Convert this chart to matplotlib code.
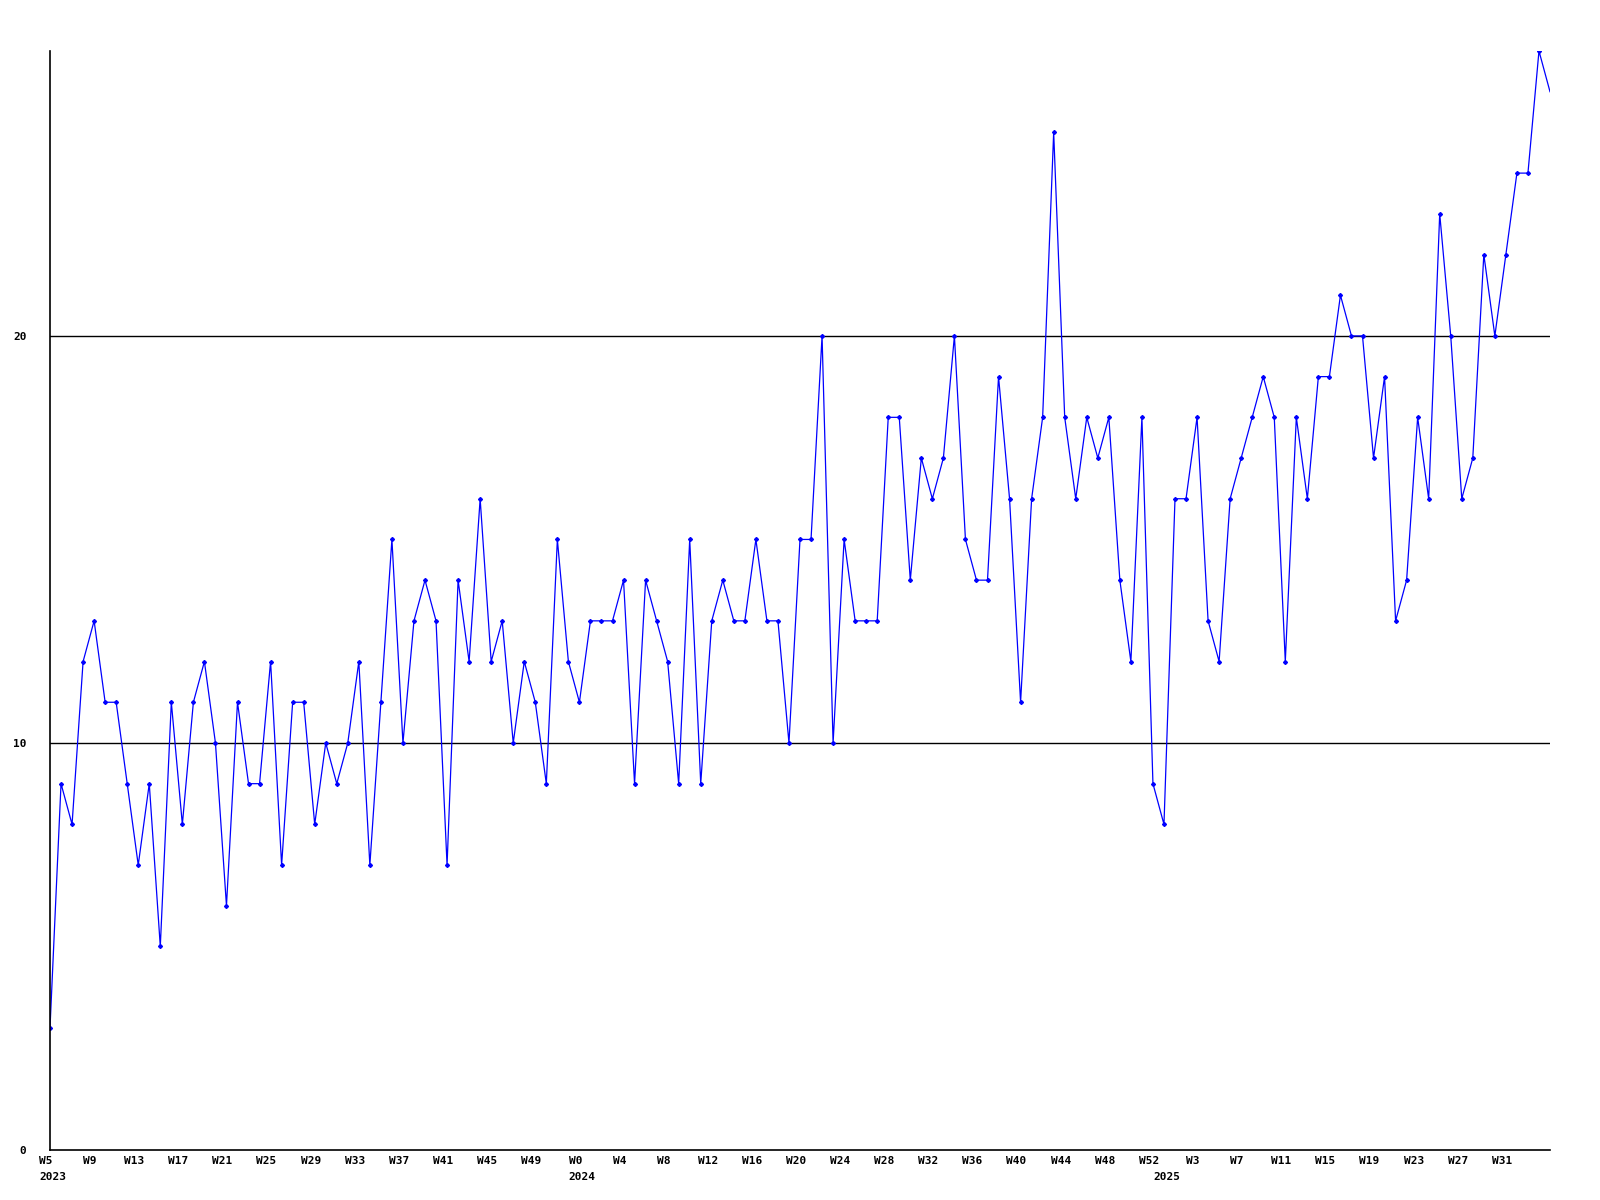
import matplotlib
matplotlib.use("Agg")
import matplotlib.pyplot as plt

# weekly counts, from 2023 W5 on
valores = [3, 9, 8, 12, 13, 11, 11, 9, 7, 9, 5, 11, 8, 11, 12, 10, 6, 11, 9, 9,
           12, 7, 11, 11, 8, 10, 9, 10, 12, 7, 11, 15, 10, 13, 14, 13, 7, 14, 12, 16,
           12, 13, 10, 12, 11, 9, 15, 12, 11, 13, 13, 13, 14, 9, 14, 13, 12, 9, 15, 9,
           13, 14, 13, 13, 15, 13, 13, 10, 15, 15, 20, 10, 15, 13, 13, 13, 18, 18, 14, 17,
           16, 17, 20, 15, 14, 14, 19, 16, 11, 16, 18, 25, 18, 16, 18, 17, 18, 14, 12, 18,
           9, 8, 16, 16, 18, 13, 12, 16, 17, 18, 19, 18, 12, 18, 16, 19, 19, 21, 20, 20,
           17, 19, 13, 14, 18, 16, 23, 20, 16, 17, 22, 20, 22, 24, 24, 27, 26]

etiquetas_semana = ["W5", "W9", "W13", "W17", "W21", "W25", "W29", "W33", "W37", "W41",
                    "W45", "W49", "W0", "W4", "W8", "W12", "W16", "W20", "W24", "W28",
                    "W32", "W36", "W40", "W44", "W48", "W52", "W3", "W7", "W11", "W15",
                    "W19", "W23", "W27", "W31"]
anios = ["2023", "2024", "2025"]
inicio_anio = [0, 48, 101]  # index of first week of each year

x = list(range(len(valores)))

fig = plt.figure(figsize=(16, 12), dpi=100)
ax = fig.add_axes([50 / 1600, 50 / 1200, 1500 / 1600, 1099 / 1200])

ax.plot(x, valores, color="#0000ff", linewidth=0.9)
ax.plot(x[:-1], valores[:-1], linestyle="none", marker="D", markersize=2.0,
        color="#0000ff")

ax.set_xlim(0, len(valores) - 1)
ax.set_ylim(0, max(valores))

for g in [10, 20]:
    ax.axhline(g, color="black", linewidth=1, zorder=0)

for s in ["top", "right"]:
    ax.spines[s].set_visible(False)
for s in ["left", "bottom"]:
    ax.spines[s].set_linewidth(1.2)

fuente = dict(family="DejaVu Sans Mono", fontweight="bold", fontsize=8)

ax.set_yticks([0, 10, 20])
ax.set_yticklabels(["0", "10", "20"], **fuente)
ax.tick_params(axis="y", length=0, pad=17)

ax.set_xticks([])
for k, lab in enumerate(etiquetas_semana):
    ax.annotate(lab, xy=(k * 4, 0), xycoords=("data", "axes fraction"),
                xytext=(-4, -6), textcoords="offset pixels",
                ha="center", va="top", **fuente)
for pos, a in zip(inicio_anio, anios):
    ax.annotate(a, xy=(pos, 0), xycoords=("data", "axes fraction"),
                xytext=(-11, -22), textcoords="offset pixels",
                ha="left", va="top", **fuente)

plt.savefig("out.png", dpi=100)
